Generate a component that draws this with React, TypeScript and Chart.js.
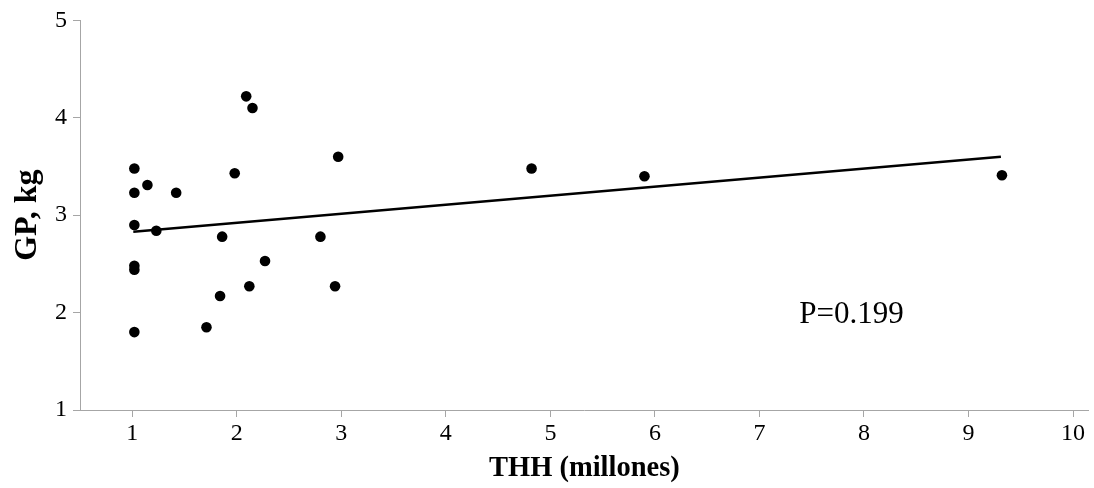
import React, { useEffect, useRef } from "react";
import { Chart, registerables } from "chart.js";

Chart.register(...registerables);

const thhValues = [1.02, 1.02, 1.145, 1.42, 1.02, 1.23, 1.02, 1.02, 1.02, 1.71, 1.84, 1.86, 1.98, 2.09, 2.15, 2.12, 2.27, 2.8, 2.94, 2.97, 4.82, 5.9, 9.32];
const gpValues = [3.48, 3.23, 3.31, 3.23, 2.9, 2.84, 2.48, 2.44, 1.8, 1.85, 2.17, 2.78, 3.43, 4.22, 4.1, 2.27, 2.53, 2.78, 2.27, 3.6, 3.48, 3.4, 3.41];

const trendX = [1.01, 9.31];
const trendY = [2.83, 3.6];

const xTickValues = [1, 2, 3, 4, 5, 6, 7, 8, 9, 10];
const yTickValues = [1, 2, 3, 4, 5];

const xAxisTitle = "THH (millones)";
const yAxisTitle = "GP, kg";
const pLabel = "P=0.199";
const pLabelAt = { x: 7.38, y: 1.89 };

const FONT = "'Liberation Serif', 'Times New Roman', serif";
const AXIS_GRAY = "#a6a6a6";

export default function App() {
  const ref = useRef<HTMLCanvasElement | null>(null);

  useEffect(() => {
    if (!ref.current) return;
    const pPlugin = {
      id: "pLabel",
      afterDatasetsDraw(chart: any) {
        const ctx = chart.ctx;
        const xs = chart.scales.x;
        const ys = chart.scales.y;
        ctx.save();
        ctx.font = `31px ${FONT}`;
        ctx.fillStyle = "#000";
        ctx.textAlign = "left";
        ctx.textBaseline = "alphabetic";
        ctx.fillText(pLabel, xs.getPixelForValue(pLabelAt.x), ys.getPixelForValue(pLabelAt.y));
        ctx.restore();
      },
    };

    const chart = new Chart(ref.current, {
      type: "scatter",
      data: {
        datasets: [
          {
            type: "scatter",
            data: thhValues.map((x, i) => ({ x, y: gpValues[i] })),
            backgroundColor: "#000",
            borderWidth: 0,
            pointRadius: 5.3,
            pointHoverRadius: 5.3,
            order: 1,
          } as any,
          {
            type: "line",
            data: trendX.map((x, i) => ({ x, y: trendY[i] })),
            borderColor: "#000",
            borderWidth: 2.5,
            pointRadius: 0,
            fill: false,
            showLine: true,
            order: 2,
          } as any,
        ],
      },
      plugins: [pPlugin],
      options: {
        animation: false,
        responsive: false,
        maintainAspectRatio: false,
        layout: { padding: { top: 20, right: 4, left: 0, bottom: 0 } },
        plugins: {
          legend: { display: false },
          tooltip: { enabled: false },
        },
        scales: {
          x: {
            type: "linear",
            min: 0.5,
            max: 10.15,
            afterBuildTicks: (scale: any) => {
              scale.ticks = xTickValues.map((v) => ({ value: v }));
            },
            afterFit: (scale: any) => {
              scale.height = 78;
            },
            grid: {
              display: true,
              drawOnChartArea: false,
              drawTicks: true,
              tickLength: 7,
              color: AXIS_GRAY,
            },
            border: { display: true, color: AXIS_GRAY, width: 1 },
            ticks: {
              autoSkip: false,
              maxRotation: 0,
              padding: 2,
              color: "#000",
              font: { family: FONT, size: 24, lineHeight: 1.2 },
              callback: (v: any) => String(v),
            },
            title: {
              display: true,
              text: xAxisTitle,
              color: "#000",
              font: { family: FONT, size: 28.5, weight: "bold", lineHeight: 1.2 },
              padding: { top: 0, bottom: 2 },
            },
          },
          y: {
            type: "linear",
            min: 1,
            max: 5,
            afterBuildTicks: (scale: any) => {
              scale.ticks = yTickValues.map((v) => ({ value: v }));
            },
            afterFit: (scale: any) => {
              scale.width = 80;
            },
            grid: {
              display: true,
              drawOnChartArea: false,
              drawTicks: true,
              tickLength: 7,
              color: AXIS_GRAY,
            },
            border: { display: true, color: AXIS_GRAY, width: 1 },
            ticks: {
              padding: 6,
              color: "#000",
              font: { family: FONT, size: 24, lineHeight: 1.2 },
              callback: (v: any) => String(v),
            },
            title: {
              display: true,
              text: yAxisTitle,
              color: "#000",
              font: { family: FONT, size: 32, weight: "bold", lineHeight: 1.2 },
              padding: { top: 9, bottom: 0 },
            },
          },
        },
      },
    });
    return () => chart.destroy();
  }, []);

  return (
    <div style={{ position: "absolute", left: 0, top: 0, width: 1094, height: 488, background: "#fff" }}>
      <canvas ref={ref} width={1094} height={488} />
    </div>
  );
}
